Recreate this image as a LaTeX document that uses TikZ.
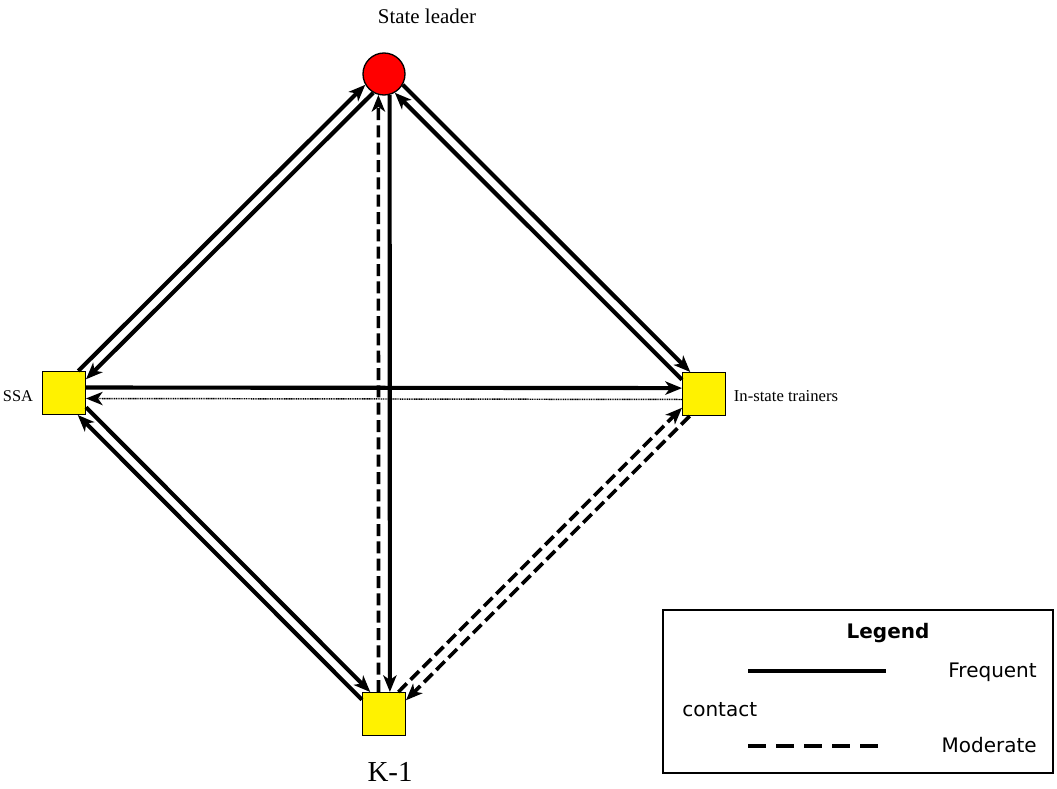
\documentclass[tikz,border=0pt]{standalone}
\usepackage{fontspec}
\setmainfont{Liberation Serif}
\newfontfamily\legendfont{DejaVu Sans}
\usetikzlibrary{arrows.meta}
\tikzset{
	unit/.style={draw=black, line width=1pt, fill=yellow, minimum size=32pt, inner sep=0pt},
	leader/.style={draw=black, line width=1pt, fill=red, circle, minimum size=31.5pt, inner sep=0pt},
	freq/.style={line width=3.1pt},
	moder/.style={line width=2.7pt, dash pattern=on 9pt off 4pt},
	faint/.style={line width=1.1pt, dash pattern=on 0.8pt off 0.5pt},
}

\begin{document}
\begin{tikzpicture}[x=0.75pt, y=-0.75pt, >={Stealth[length=12.5pt, width=10pt, inset=3.5pt]}]
			%%%%% START %%%%%
			\useasboundingbox (0, 0) rectangle (1057, 789);
			
			\node[leader] (lead) at (384, 74) {};
			\node[unit] (ssa) at (64, 393) {};
			\node[unit] (inst) at (704, 394) {};
			\node[unit] (kone) at (384, 714) {};
			
			\node[font=\fontsize{15.7}{18}\selectfont] (leadtxt) at (427, 16) {State leader};
			\node[font=\fontsize{12.3}{14}\selectfont] (ssatxt) at (18, 396) {SSA};
			\node[font=\fontsize{12.5}{14}\selectfont] (insttxt) at (786, 396) {In-state trainers};
			\node[font=\fontsize{21.7}{24}\selectfont, inner sep=1pt] (konetxt) at (390, 772) {K-1};
			
			% SSA and state leader
			\draw[freq, ->] (ssa.57.5) -- (lead.210);
			\draw[freq, ->] (lead.240) -- (ssa.32.5);
			
			% state leader and in-state trainers
			\draw[freq, ->] (lead.330) -- (inst.122.5);
			\draw[freq, ->] (inst.147.5) -- (lead.300);
			
			% state leader and K-1
			\draw[moder, ->] (kone.104.3) -- (lead.255);
			\draw[freq, ->] (lead.285) -- (kone.75.7);
			
			% SSA and in-state trainers
			\draw[freq, ->] (ssa.14.3) -- (inst.165.7);
			\draw[faint, ->] (inst.194.3) -- (ssa.-14.3);
			
			% SSA and K-1
			\draw[freq, ->] (kone.147.5) -- (ssa.302.5);
			\draw[freq, ->] (ssa.327.5) -- (kone.122.5);
			
			% K-1 and in-state trainers
			\draw[moder, ->] (kone.57.5) -- (inst.212.5);
			\draw[moder, ->] (inst.237.5) -- (kone.32.5);
			
			% legend
			\draw[line width=1.1pt] (663, 610) rectangle (1053, 773);
			\node[font=\legendfont\bfseries\fontsize{15}{18}\selectfont] (legtitle) at (888, 633) {Legend};
			\draw[line width=3.6pt] (748, 671) -- (886, 671);
			\node[font=\legendfont\fontsize{15}{18}\selectfont, anchor=east, inner sep=0pt] (legfreq) at (1037, 672) {Frequent};
			\node[font=\legendfont\fontsize{15}{18}\selectfont, anchor=west, inner sep=0pt] (legcont) at (682, 710) {contact};
			\draw[line width=3.2pt, dash pattern=on 13.5pt off 7.5pt] (748, 746) -- (880, 746);
			\node[font=\legendfont\fontsize{15}{18}\selectfont, anchor=east, inner sep=0pt] (legmod) at (1037, 745) {Moderate};
			
			%%%%% END %%%%%
		\end{tikzpicture}
\end{document}
